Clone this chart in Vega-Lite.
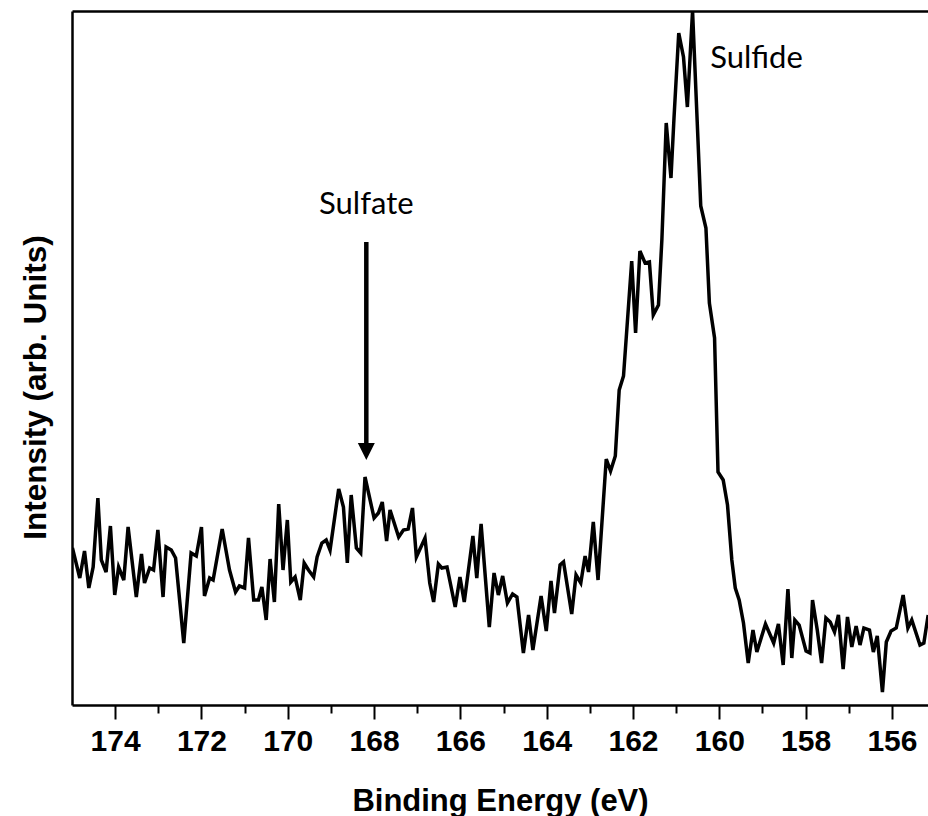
{
  "$schema": "https://vega.github.io/schema/vega-lite/v6.json",
  "autosize": {"type": "none"},
  "padding": {"left": 72, "top": 11, "right": 0, "bottom": 111},
  "width": 856,
  "height": 694,
  "background": "white",
  "config": {
    "view": {"stroke": null},
    "axis": {"domainColor": "black", "domainWidth": 2.5, "tickColor": "black", "labelColor": "black", "titleColor": "black"}
  },
  "datasets": {
    "spectrum": [
      {"energy": 174.99, "intensity": 157}, {"energy": 174.82, "intensity": 127}, {"energy": 174.71, "intensity": 154},
      {"energy": 174.61, "intensity": 117}, {"energy": 174.51, "intensity": 138}, {"energy": 174.40, "intensity": 207},
      {"energy": 174.32, "intensity": 145}, {"energy": 174.21, "intensity": 133}, {"energy": 174.11, "intensity": 179},
      {"energy": 174.01, "intensity": 110}, {"energy": 173.92, "intensity": 138}, {"energy": 173.80, "intensity": 125},
      {"energy": 173.70, "intensity": 178}, {"energy": 173.51, "intensity": 108}, {"energy": 173.39, "intensity": 151},
      {"energy": 173.32, "intensity": 122}, {"energy": 173.20, "intensity": 137}, {"energy": 173.11, "intensity": 135},
      {"energy": 173.01, "intensity": 175}, {"energy": 172.89, "intensity": 108}, {"energy": 172.82, "intensity": 158},
      {"energy": 172.70, "intensity": 155}, {"energy": 172.60, "intensity": 147}, {"energy": 172.41, "intensity": 62},
      {"energy": 172.24, "intensity": 152}, {"energy": 172.12, "intensity": 149}, {"energy": 172.00, "intensity": 178},
      {"energy": 171.93, "intensity": 109}, {"energy": 171.81, "intensity": 127}, {"energy": 171.73, "intensity": 125},
      {"energy": 171.52, "intensity": 176}, {"energy": 171.35, "intensity": 135}, {"energy": 171.21, "intensity": 113},
      {"energy": 171.12, "intensity": 119}, {"energy": 171.00, "intensity": 117}, {"energy": 170.91, "intensity": 167},
      {"energy": 170.79, "intensity": 105}, {"energy": 170.68, "intensity": 105}, {"energy": 170.60, "intensity": 118},
      {"energy": 170.50, "intensity": 85}, {"energy": 170.41, "intensity": 146}, {"energy": 170.31, "intensity": 103},
      {"energy": 170.21, "intensity": 201}, {"energy": 170.11, "intensity": 135}, {"energy": 170.01, "intensity": 185},
      {"energy": 169.93, "intensity": 123}, {"energy": 169.83, "intensity": 128}, {"energy": 169.71, "intensity": 105},
      {"energy": 169.62, "intensity": 142}, {"energy": 169.52, "intensity": 135}, {"energy": 169.40, "intensity": 128},
      {"energy": 169.32, "intensity": 148}, {"energy": 169.21, "intensity": 162}, {"energy": 169.11, "intensity": 165},
      {"energy": 169.02, "intensity": 155}, {"energy": 168.82, "intensity": 216}, {"energy": 168.71, "intensity": 198},
      {"energy": 168.62, "intensity": 142}, {"energy": 168.53, "intensity": 210}, {"energy": 168.41, "intensity": 157},
      {"energy": 168.31, "intensity": 152}, {"energy": 168.21, "intensity": 228}, {"energy": 168.00, "intensity": 187},
      {"energy": 167.90, "intensity": 192}, {"energy": 167.81, "intensity": 203}, {"energy": 167.71, "intensity": 164},
      {"energy": 167.63, "intensity": 195}, {"energy": 167.43, "intensity": 168}, {"energy": 167.32, "intensity": 175},
      {"energy": 167.21, "intensity": 176}, {"energy": 167.11, "intensity": 197}, {"energy": 167.02, "intensity": 148},
      {"energy": 166.82, "intensity": 167}, {"energy": 166.71, "intensity": 122}, {"energy": 166.62, "intensity": 103},
      {"energy": 166.51, "intensity": 141}, {"energy": 166.43, "intensity": 137}, {"energy": 166.31, "intensity": 138},
      {"energy": 166.12, "intensity": 98}, {"energy": 166.01, "intensity": 128}, {"energy": 165.91, "intensity": 103},
      {"energy": 165.71, "intensity": 169}, {"energy": 165.62, "intensity": 127}, {"energy": 165.52, "intensity": 181},
      {"energy": 165.33, "intensity": 78}, {"energy": 165.22, "intensity": 132}, {"energy": 165.12, "intensity": 110},
      {"energy": 165.02, "intensity": 129}, {"energy": 164.91, "intensity": 102}, {"energy": 164.79, "intensity": 111},
      {"energy": 164.69, "intensity": 108}, {"energy": 164.54, "intensity": 52}, {"energy": 164.42, "intensity": 90},
      {"energy": 164.32, "intensity": 55}, {"energy": 164.13, "intensity": 109}, {"energy": 164.01, "intensity": 74},
      {"energy": 163.90, "intensity": 124}, {"energy": 163.82, "intensity": 92}, {"energy": 163.69, "intensity": 140},
      {"energy": 163.61, "intensity": 143}, {"energy": 163.42, "intensity": 91}, {"energy": 163.32, "intensity": 130},
      {"energy": 163.21, "intensity": 122}, {"energy": 163.11, "intensity": 149}, {"energy": 163.03, "intensity": 133},
      {"energy": 162.92, "intensity": 183}, {"energy": 162.81, "intensity": 125}, {"energy": 162.62, "intensity": 246},
      {"energy": 162.52, "intensity": 234}, {"energy": 162.41, "intensity": 249}, {"energy": 162.32, "intensity": 315},
      {"energy": 162.22, "intensity": 329}, {"energy": 162.03, "intensity": 444}, {"energy": 161.94, "intensity": 372},
      {"energy": 161.84, "intensity": 454}, {"energy": 161.72, "intensity": 442}, {"energy": 161.62, "intensity": 443},
      {"energy": 161.53, "intensity": 390}, {"energy": 161.41, "intensity": 400}, {"energy": 161.33, "intensity": 466},
      {"energy": 161.23, "intensity": 582}, {"energy": 161.12, "intensity": 527}, {"energy": 161.05, "intensity": 587},
      {"energy": 160.94, "intensity": 672}, {"energy": 160.83, "intensity": 648}, {"energy": 160.74, "intensity": 598},
      {"energy": 160.62, "intensity": 694}, {"energy": 160.43, "intensity": 499}, {"energy": 160.31, "intensity": 477},
      {"energy": 160.23, "intensity": 402}, {"energy": 160.11, "intensity": 367}, {"energy": 160.03, "intensity": 233},
      {"energy": 159.91, "intensity": 225}, {"energy": 159.81, "intensity": 200}, {"energy": 159.71, "intensity": 145},
      {"energy": 159.63, "intensity": 117}, {"energy": 159.54, "intensity": 105}, {"energy": 159.44, "intensity": 82},
      {"energy": 159.33, "intensity": 42}, {"energy": 159.22, "intensity": 75}, {"energy": 159.13, "intensity": 53},
      {"energy": 158.93, "intensity": 81}, {"energy": 158.74, "intensity": 62}, {"energy": 158.63, "intensity": 81},
      {"energy": 158.52, "intensity": 40}, {"energy": 158.41, "intensity": 116}, {"energy": 158.32, "intensity": 47},
      {"energy": 158.25, "intensity": 85}, {"energy": 158.15, "intensity": 80}, {"energy": 157.99, "intensity": 54},
      {"energy": 157.90, "intensity": 52}, {"energy": 157.84, "intensity": 105}, {"energy": 157.73, "intensity": 75},
      {"energy": 157.63, "intensity": 42}, {"energy": 157.53, "intensity": 87}, {"energy": 157.43, "intensity": 83},
      {"energy": 157.33, "intensity": 73}, {"energy": 157.24, "intensity": 90}, {"energy": 157.13, "intensity": 36},
      {"energy": 157.03, "intensity": 88}, {"energy": 156.93, "intensity": 58}, {"energy": 156.83, "intensity": 79},
      {"energy": 156.74, "intensity": 60}, {"energy": 156.65, "intensity": 77}, {"energy": 156.52, "intensity": 75},
      {"energy": 156.43, "intensity": 53}, {"energy": 156.34, "intensity": 69}, {"energy": 156.22, "intensity": 13},
      {"energy": 156.13, "intensity": 63}, {"energy": 156.02, "intensity": 74}, {"energy": 155.90, "intensity": 77},
      {"energy": 155.74, "intensity": 110}, {"energy": 155.63, "intensity": 77}, {"energy": 155.54, "intensity": 85},
      {"energy": 155.35, "intensity": 60}, {"energy": 155.26, "intensity": 62}, {"energy": 155.16, "intensity": 90}
    ],
    "sulfate": [{"energy": 168.18, "intensity": 491, "label": "Sulfate"}],
    "sulfide": [{"energy": 160.21, "intensity": 637, "label": "Sulfide"}],
    "arrow": [{"energy": 168.18, "top": 463, "bottom": 262, "tip": 253.5}]
  },
  "resolve": {"axis": {"x": "independent", "y": "independent"}},
  "layer": [
    {
      "data": {"name": "spectrum"},
      "mark": {"type": "line", "color": "black", "strokeWidth": 3.5, "clip": true},
      "encoding": {
        "x": {
          "field": "energy", "type": "quantitative",
          "scale": {"domain": [155.164, 175], "reverse": true, "nice": false, "zero": false},
          "axis": {
            "orient": "bottom",
            "values": [156, 158, 160, 162, 164, 166, 168, 170, 172, 174],
            "tickSize": 14,
            "tickWidth": 2,
            "labelPadding": 7,
            "labelFont": "Liberation Sans", "labelFontWeight": "bold", "labelFontSize": 30,
            "labelOverlap": false, "labelFlush": false,
            "grid": false,
            "title": "Binding Energy (eV)",
            "titleFont": "Liberation Sans", "titleFontWeight": "bold", "titleFontSize": 31,
            "titleBaseline": "alphabetic", "titleY": 105
          }
        },
        "y": {
          "field": "intensity", "type": "quantitative",
          "scale": {"domain": [0, 694], "nice": false, "zero": false},
          "axis": {
            "orient": "left", "ticks": false, "labels": false, "grid": false,
            "title": "Intensity (arb. Units)",
            "titleFont": "Liberation Sans", "titleFontWeight": "bold", "titleFontSize": 31.5,
            "titleBaseline": "alphabetic", "titleX": -27, "titleY": 376
          }
        }
      }
    },
    {
      "data": {"name": "arrow"},
      "mark": {"type": "rule", "color": "black", "strokeWidth": 4.5},
      "encoding": {
        "x": {"field": "energy", "type": "quantitative",
              "scale": {"domain": [155.164, 175], "reverse": true, "nice": false, "zero": false},
              "axis": {"orient": "top", "ticks": false, "labels": false, "title": null, "grid": false}},
        "y": {"field": "top", "type": "quantitative",
              "scale": {"domain": [0, 694], "nice": false, "zero": false},
              "axis": null},
        "y2": {"field": "bottom"}
      }
    },
    {
      "data": {"name": "arrow"},
      "mark": {"type": "point", "shape": "M-1,-1L1,-1L0,1Z", "filled": true, "color": "black", "opacity": 1, "size": 289},
      "encoding": {
        "x": {"field": "energy", "type": "quantitative",
              "scale": {"domain": [155.164, 175], "reverse": true, "nice": false, "zero": false},
              "axis": {"orient": "bottom", "values": [157, 159, 161, 163, 165, 167, 169, 171, 173],
                       "tickSize": 8, "tickWidth": 2, "labels": false, "domain": false, "title": null, "grid": false}},
        "y": {"field": "tip", "type": "quantitative",
              "scale": {"domain": [0, 694], "nice": false, "zero": false}, "axis": null}
      }
    },
    {
      "data": {"name": "sulfate"},
      "mark": {"type": "text", "font": "Lato", "fontSize": 31, "align": "center", "baseline": "alphabetic", "color": "black"},
      "encoding": {
        "x": {"field": "energy", "type": "quantitative",
              "scale": {"domain": [155.164, 175], "reverse": true, "nice": false, "zero": false}, "axis": null},
        "y": {"field": "intensity", "type": "quantitative",
              "scale": {"domain": [0, 694], "nice": false, "zero": false}, "axis": null},
        "text": {"field": "label"}
      }
    },
    {
      "data": {"name": "sulfide"},
      "mark": {"type": "text", "font": "Lato", "fontSize": 31, "align": "left", "baseline": "alphabetic", "color": "black"},
      "encoding": {
        "x": {"field": "energy", "type": "quantitative",
              "scale": {"domain": [155.164, 175], "reverse": true, "nice": false, "zero": false}, "axis": null},
        "y": {"field": "intensity", "type": "quantitative",
              "scale": {"domain": [0, 694], "nice": false, "zero": false}, "axis": null},
        "text": {"field": "label"}
      }
    }
  ]
}
